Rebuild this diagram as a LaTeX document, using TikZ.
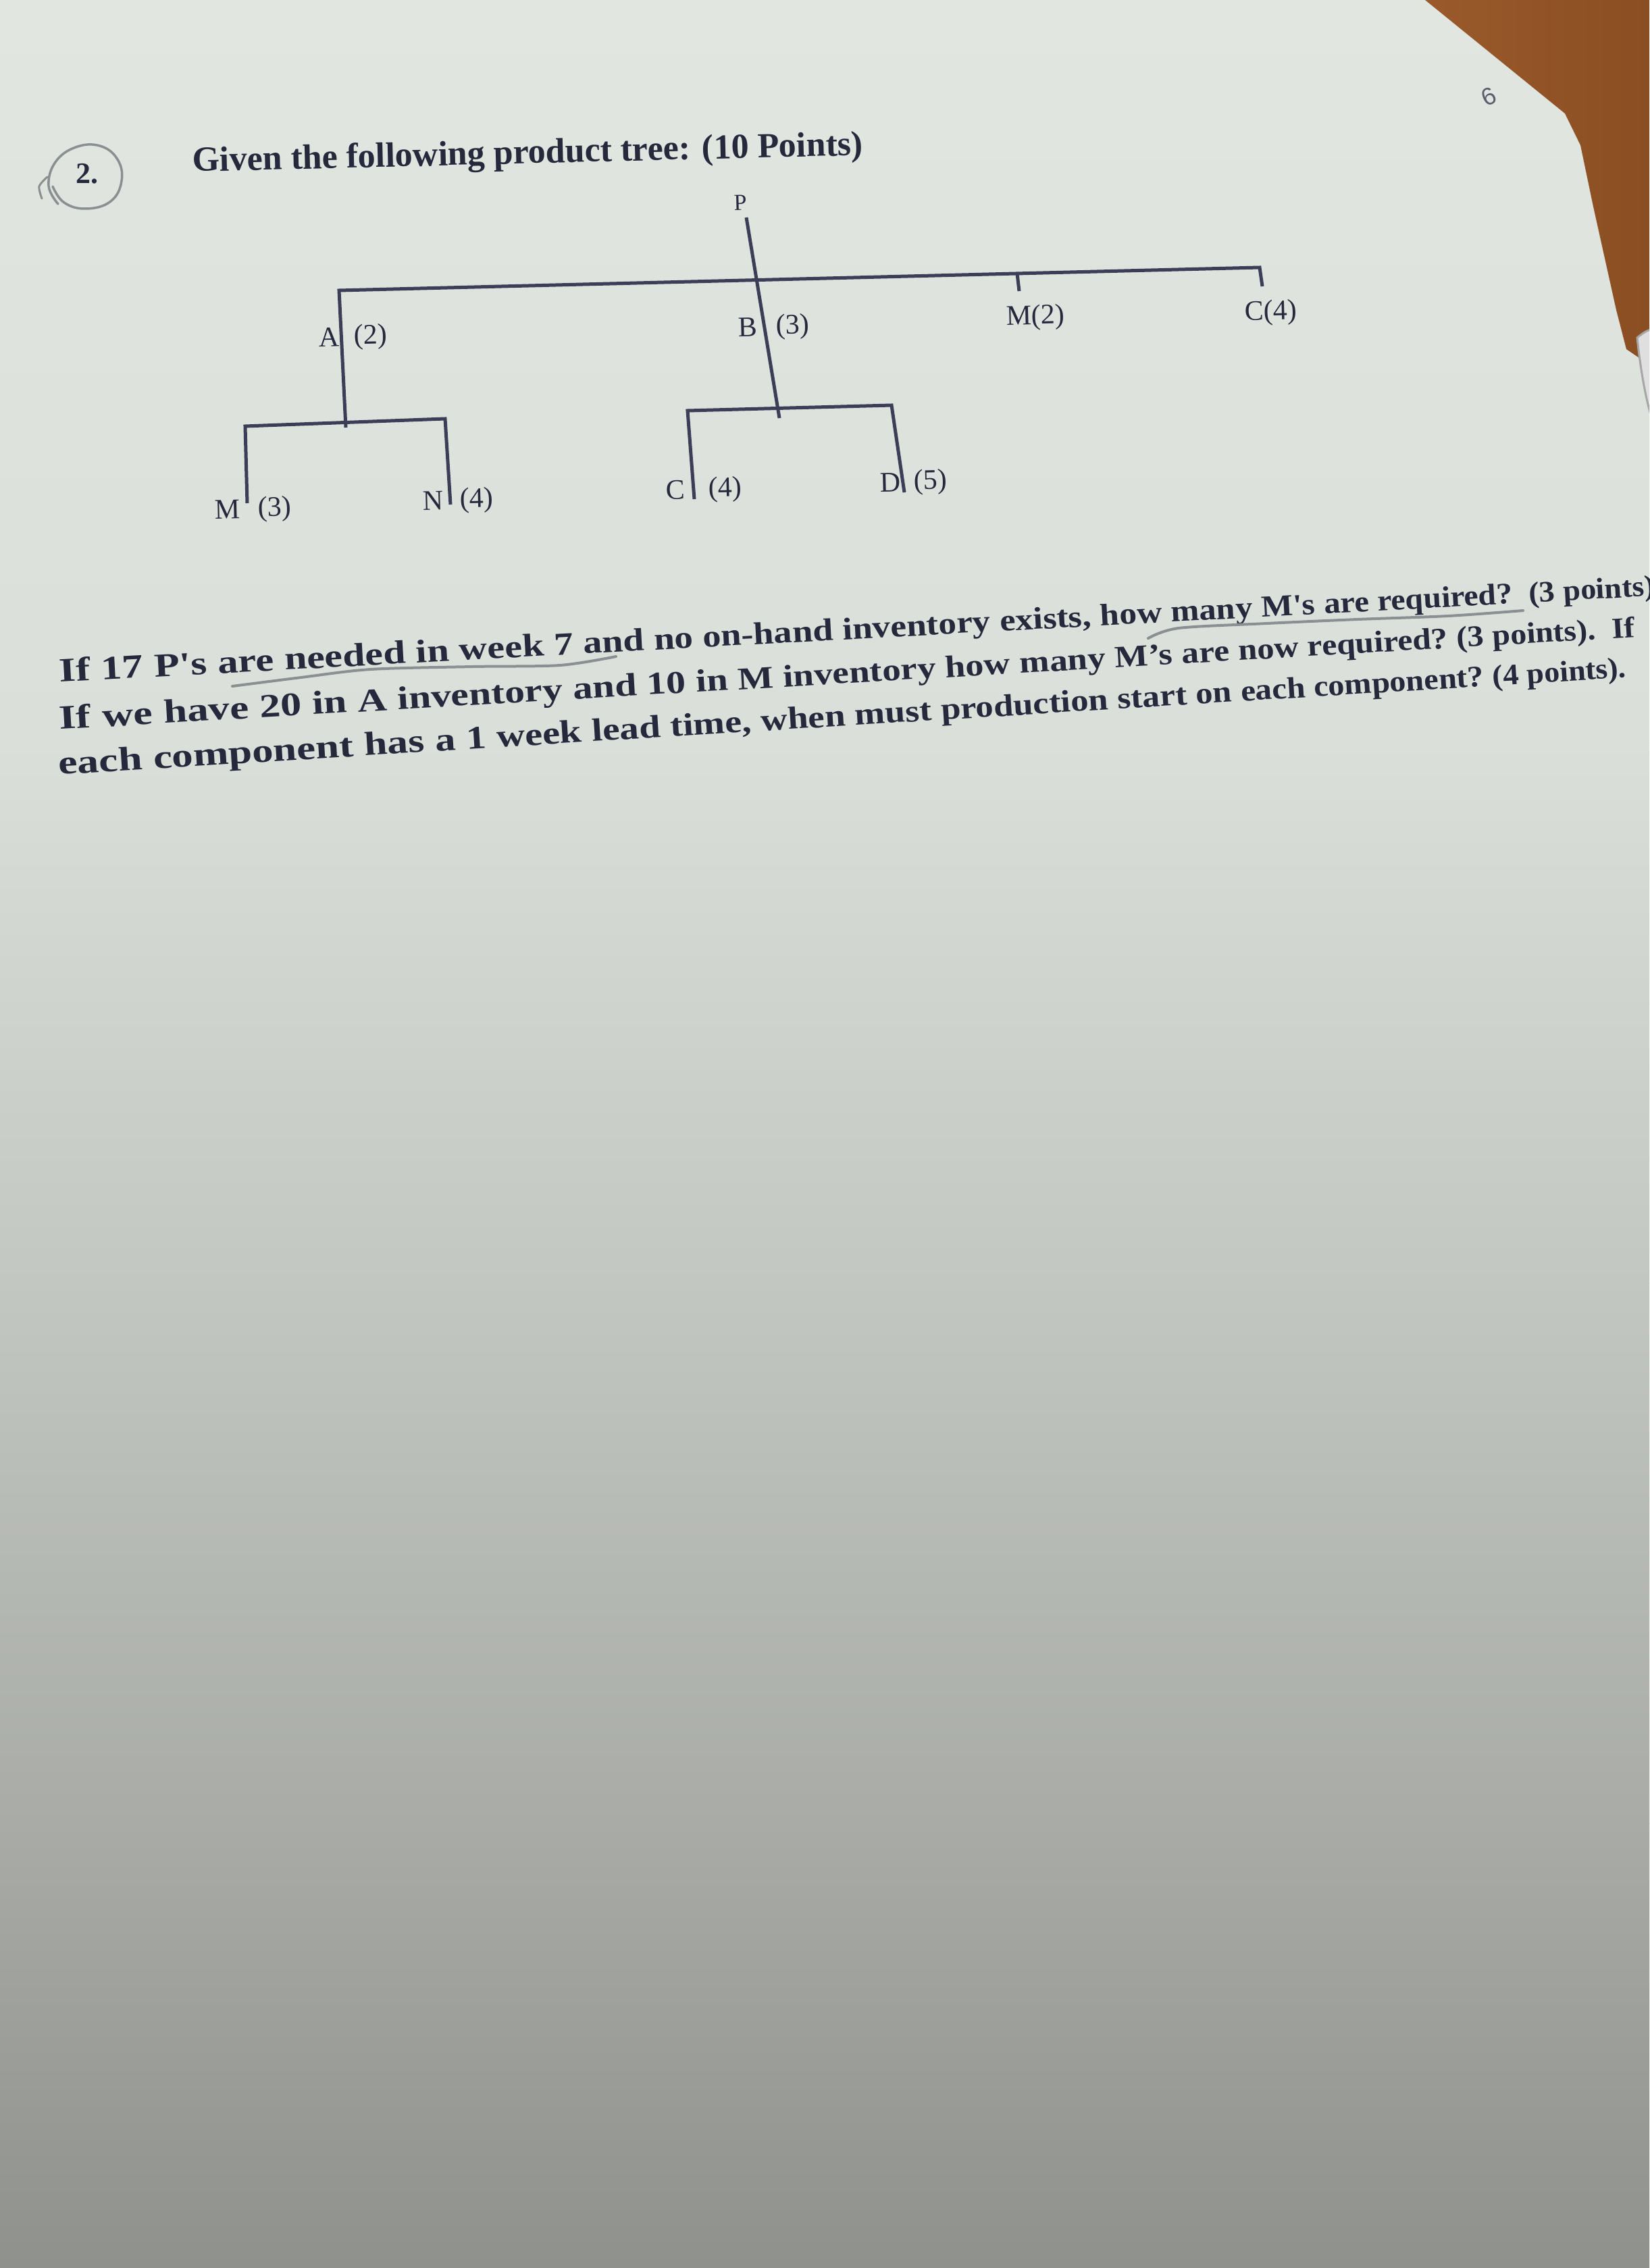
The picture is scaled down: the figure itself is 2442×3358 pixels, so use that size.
\documentclass[tikz,border=0pt]{standalone}
\usepackage{fontspec}
\setmainfont{Liberation Serif}
\setsansfont{Liberation Sans}
\definecolor{inkclr}{HTML}{26283C}
\definecolor{treeclr}{HTML}{3C3E58}
\definecolor{pencilclr}{HTML}{8A8F92}
\definecolor{pageA}{HTML}{E1E6E1}
\definecolor{pageB}{HTML}{DADFDA}
\definecolor{pageC}{HTML}{C3C7C2}
\definecolor{pageD}{HTML}{A8ABA6}
\definecolor{pageE}{HTML}{8E918C}
\definecolor{woodclr}{HTML}{9A5A2B}
\definecolor{woodDark}{HTML}{8A4E22}
\begin{document}
\begin{tikzpicture}[x=1pt,y=-1pt,
  treeline/.style={draw=treeclr, line width=5pt, line cap=butt, line join=miter},
  lbl/.style={font=\fontsize{42}{50}\selectfont, text=inkclr, inner sep=0pt, rotate=1.4},
  qt/.style={font=\fontsize{50}{60}\selectfont\bfseries, text=inkclr, inner sep=0pt, anchor=base west},
  pencil/.style={draw=pencilclr, line width=4pt, line cap=round, line join=round}]
\useasboundingbox (0,0) rectangle (2442,3358);
\clip (0,0) rectangle (2442,3358);
% page background
\shade[top color=pageA, bottom color=pageB] (0,0) rectangle (2442,1100);
\shade[top color=pageB, bottom color=pageC] (0,1099) rectangle (2442,1900);
\shade[top color=pageC, bottom color=pageD] (0,1899) rectangle (2442,2700);
\shade[top color=pageD, bottom color=pageE] (0,2699) rectangle (2442,3358);
% desk corner
\shade[left color=woodclr, right color=woodDark] (2110,0) -- (2317,168) -- (2340,215) -- (2359,306) -- (2393,459) -- (2408,517) -- (2442,540) -- (2442,0) -- cycle;
\fill[gray!25, draw=gray!70, line width=3pt] (2424,500) .. controls (2436,490) and (2442,488) .. (2446,488) -- (2446,620) .. controls (2436,590) and (2428,540) .. (2424,500) -- cycle;
% page number
\node[font=\sffamily\fontsize{36}{40}\selectfont, text=inkclr!75, rotate=25, inner sep=0pt] (pg) at (2204,143) {6};
% question number
\node[font=\fontsize{44}{50}\selectfont\bfseries, text=inkclr, inner sep=0pt, anchor=base west] (qn) at (112,272) {2.};
\draw[pencil, line width=3.5pt] plot[smooth, tension=0.7] coordinates {(86,302) (72,275) (82,240) (112,218) (148,216) (174,236) (180,268) (164,298) (128,309) (95,300) (78,276)};
\draw[pencil, line width=3pt] plot[smooth] coordinates {(70,262) (58,276) (62,294)};
% title
\node[qt, font=\fontsize{52}{60}\selectfont\bfseries, rotate=1.4] (title) at (285,254) {Given the following product tree: (10 Points)};
% tree coordinates
\coordinate (pTop) at (1105,322);
\coordinate (bEnd) at (1154,619);
\coordinate (barL) at (502,430);
\coordinate (barM) at (1506,405);
\coordinate (barR) at (1865,396);
\coordinate (tM2) at (1509,431);
\coordinate (tC4) at (1869,424);
\coordinate (aEnd) at (512,633);
\coordinate (aL) at (363,631);
\coordinate (aR) at (659,620);
\coordinate (mEnd) at (366,745);
\coordinate (nEnd) at (667,747);
\coordinate (bL) at (1018,608);
\coordinate (bR) at (1320,600);
\coordinate (cEnd) at (1028,739);
\coordinate (dEnd) at (1339,729);
% tree lines
\draw[treeline] (pTop) -- (bEnd);
\draw[treeline] (aEnd) -- (barL) -- (barR) -- (tC4);
\draw[treeline] (barM) -- (tM2);
\draw[treeline] (mEnd) -- (aL) -- (aR) -- (nEnd);
\draw[treeline] (cEnd) -- (bL) -- (bR) -- (dEnd);
% tree labels
\node[lbl, font=\fontsize{34}{40}\selectfont] (nP) at (1096,300) {P};
\node[lbl] (nA) at (487,499) {A};
\node[lbl] (nAq) at (549,499) {(2)};
\node[lbl] (nB) at (1107,484) {B};
\node[lbl] (nBq) at (1174,484) {(3)};
\node[lbl] (nM2) at (1533,470) {M(2)};
\node[lbl] (nC4) at (1882,463) {C(4)};
\node[lbl] (nM) at (337,754) {M};
\node[lbl] (nMq) at (407,754) {(3)};
\node[lbl] (nN) at (641,741) {N};
\node[lbl] (nNq) at (706,741) {(4)};
\node[lbl] (nC) at (1000,725) {C};
\node[lbl] (nCq) at (1074,725) {(4)};
\node[lbl] (nD) at (1318,714) {D};
\node[lbl] (nDq) at (1378,714) {(5)};
% question text, line 1 (words shrink towards the right, as in the photo)
\node[qt, rotate=3.1] (q1-0) at (87,1010) {};
\foreach \w [count=\i, remember=\i as \j (initially 0),
  evaluate=\i as \sx using 1.27-0.35*(\i-1)/19,
  evaluate=\i as \sy using 1.0-0.13*(\i-1)/19] in
  {{If}, {17}, {P\textquotesingle s}, {are}, {needed}, {in}, {week}, {7}, {and}, {no}, {on-hand}, {inventory}, {exists,}, {how}, {many}, {M\textquotesingle s}, {are}, {required?}, {\ (3}, {points)}}
  {\node[qt, rotate=3.1] (q1-\i) at (q1-\j.base east) {\scalebox{\sx}[\sy]{\w\ }};}
% line 2
\node[qt, rotate=3.35] (q2-0) at (87,1080) {};
\foreach \w [count=\i, remember=\i as \j (initially 0),
  evaluate=\i as \sx using 1.3-0.36*(\i-1)/20,
  evaluate=\i as \sy using 1.0-0.13*(\i-1)/20] in
  {{If}, {we}, {have}, {20}, {in}, {A}, {inventory}, {and}, {10}, {in}, {M}, {inventory}, {how}, {many}, {M’s}, {are}, {now}, {required?}, {(3}, {points).}, {\ If}}
  {\node[qt, rotate=3.35] (q2-\i) at (q2-\j.base east) {\scalebox{\sx}[\sy]{\w\ }};}
% line 3
\node[qt, rotate=3.55] (q3-0) at (86,1147) {};
\foreach \w [count=\i, remember=\i as \j (initially 0),
  evaluate=\i as \sx using 1.28-0.36*(\i-1)/16,
  evaluate=\i as \sy using 1.0-0.13*(\i-1)/16] in
  {{each}, {component}, {has}, {a}, {1}, {week}, {lead}, {time,}, {when}, {must}, {production}, {start}, {on}, {each}, {component?}, {(4}, {points).}}
  {\node[qt, rotate=3.55] (q3-\i) at (q3-\j.base east) {\scalebox{\sx}[\sy]{\w\ }};}
% pencil underlines
\draw[pencil] plot[smooth] coordinates {(344,1016) (446,1003) (549,991) (700,987) (829,985) (912,972)};
\draw[pencil] plot[smooth] coordinates {(1700,945) (1745,930) (1876,923) (2010,917) (2144,912) (2255,904)};
\end{tikzpicture}
\end{document}
